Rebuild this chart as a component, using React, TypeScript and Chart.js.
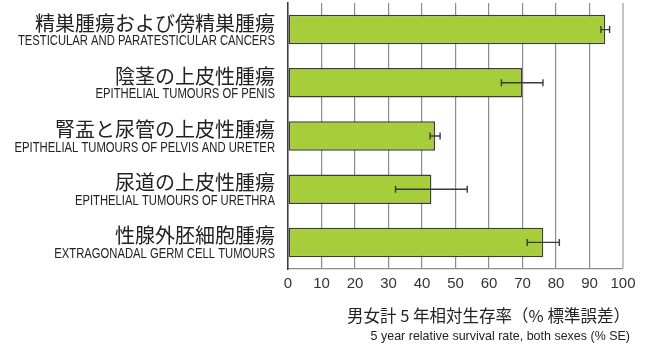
import React, { useEffect, useRef } from 'react';
import { Chart, registerables } from 'chart.js';

Chart.register(...registerables);

const labelsJa = [
  '精巣腫瘍および傍精巣腫瘍',
  '陰茎の上皮性腫瘍',
  '腎盂と尿管の上皮性腫瘍',
  '尿道の上皮性腫瘍',
  '性腺外胚細胞腫瘍',
];
const labelsEn = [
  'TESTICULAR AND PARATESTICULAR CANCERS',
  'EPITHELIAL TUMOURS OF PENIS',
  'EPITHELIAL TUMOURS OF PELVIS AND URETER',
  'EPITHELIAL TUMOURS OF URETHRA',
  'EXTRAGONADAL GERM CELL TUMOURS',
];
const survival = [94.7, 69.9, 43.9, 42.8, 76.2];
const stdError = [1.3, 6.2, 1.5, 10.7, 4.8];
const titleJa = '男女計 5 年相対生存率（% 標準誤差）';
const titleEn = '5 year relative survival rate, both sexes (% SE)';

const JP_FONT = '"Noto Sans CJK JP", "Noto Sans", sans-serif';
const LATIN_FONT = '"Liberation Sans", Arial, sans-serif';

function condensedText(ctx: any, text: string, x: number, y: number, sx: number) {
  ctx.save();
  ctx.translate(x, y);
  ctx.scale(sx, 1);
  ctx.fillText(text, 0, 0);
  ctx.restore();
}

export default function App() {
  const ref = useRef<HTMLCanvasElement>(null);

  useEffect(() => {
    if (!ref.current) return;

    const errorBars = {
      id: 'errorBars',
      afterDatasetsDraw(chart: any) {
        const ctx = chart.ctx;
        const xs = chart.scales.x;
        const meta = chart.getDatasetMeta(0);
        ctx.save();
        ctx.strokeStyle = '#3a3a3a';
        ctx.lineWidth = 1.4;
        meta.data.forEach((bar: any, i: number) => {
          const y = bar.y;
          const x1 = xs.getPixelForValue(survival[i] - stdError[i]);
          const x2 = xs.getPixelForValue(survival[i] + stdError[i]);
          ctx.beginPath();
          ctx.moveTo(x1, y);
          ctx.lineTo(x2, y);
          ctx.moveTo(x1, y - 3.5);
          ctx.lineTo(x1, y + 3.5);
          ctx.moveTo(x2, y - 3.5);
          ctx.lineTo(x2, y + 3.5);
          ctx.stroke();
        });
        ctx.restore();
      },
    };

    const textPlugin = {
      id: 'twoLineText',
      afterDraw(chart: any) {
        const ctx = chart.ctx;
        const ys = chart.scales.y;
        const area = chart.chartArea;
        ctx.save();
        ctx.fillStyle = '#222';
        ctx.textAlign = 'right';
        const labelRight = area.left - 13;
        labelsJa.forEach((ja, i) => {
          const cy = ys.getPixelForValue(i);
          ctx.textBaseline = 'middle';
          ctx.font = `20px ${JP_FONT}`;
          ctx.fillText(ja, labelRight, cy - 6.5);
          ctx.textBaseline = 'alphabetic';
          ctx.font = `15px ${LATIN_FONT}`;
          condensedText(ctx, labelsEn[i], labelRight, cy + 15.5, 0.75);
        });
        const titleRight = chart.width - 23;
        ctx.textBaseline = 'middle';
        ctx.font = `16.5px ${JP_FONT}`;
        ctx.fillText(titleJa, titleRight, 316);
        ctx.textBaseline = 'alphabetic';
        ctx.font = `13px ${LATIN_FONT}`;
        condensedText(ctx, titleEn, titleRight, 340, 0.96);
        ctx.restore();
      },
    };

    const chart = new Chart(ref.current, {
      type: 'bar',
      data: {
        labels: labelsJa,
        datasets: [
          {
            data: survival,
            backgroundColor: '#a6cd3a',
            borderColor: '#3c3c3c',
            borderWidth: 1.5,
            borderSkipped: false,
            categoryPercentage: 0.555,
            barPercentage: 1,
          },
        ],
      },
      options: {
        indexAxis: 'y',
        animation: false,
        responsive: true,
        maintainAspectRatio: false,
        layout: { padding: { top: 3, right: 30, left: 0, bottom: 0 } },
        plugins: {
          legend: { display: false },
          tooltip: { enabled: false },
        },
        scales: {
          x: {
            min: 0,
            max: 100,
            ticks: {
              stepSize: 10,
              color: '#333',
              padding: 6,
              font: { family: LATIN_FONT, size: 15 },
            },
            grid: {
              drawTicks: false,
              color: (c: any) => (c.tick && c.tick.value === 100 ? '#c4c4c4' : '#8c8c8c'),
              lineWidth: (c: any) => (c.tick && c.tick.value === 100 ? 2 : 1.2),
            },
            border: { color: '#8c8c8c', width: 1.2 },
            afterFit(scale: any) {
              scale.height = 76;
              scale.paddingLeft = 0;
              scale.paddingRight = 0;
            },
          },
          y: {
            ticks: { display: false },
            grid: { display: false },
            border: { display: true, color: '#3c3c3c', width: 1.5 },
            afterFit(scale: any) {
              scale.width = 288;
            },
          },
        },
      },
      plugins: [errorBars, textPlugin],
    });

    return () => chart.destroy();
  }, []);

  return (
    <div style={{ position: 'fixed', left: 0, top: 0, width: 653, height: 345 }}>
      <canvas ref={ref} />
    </div>
  );
}
